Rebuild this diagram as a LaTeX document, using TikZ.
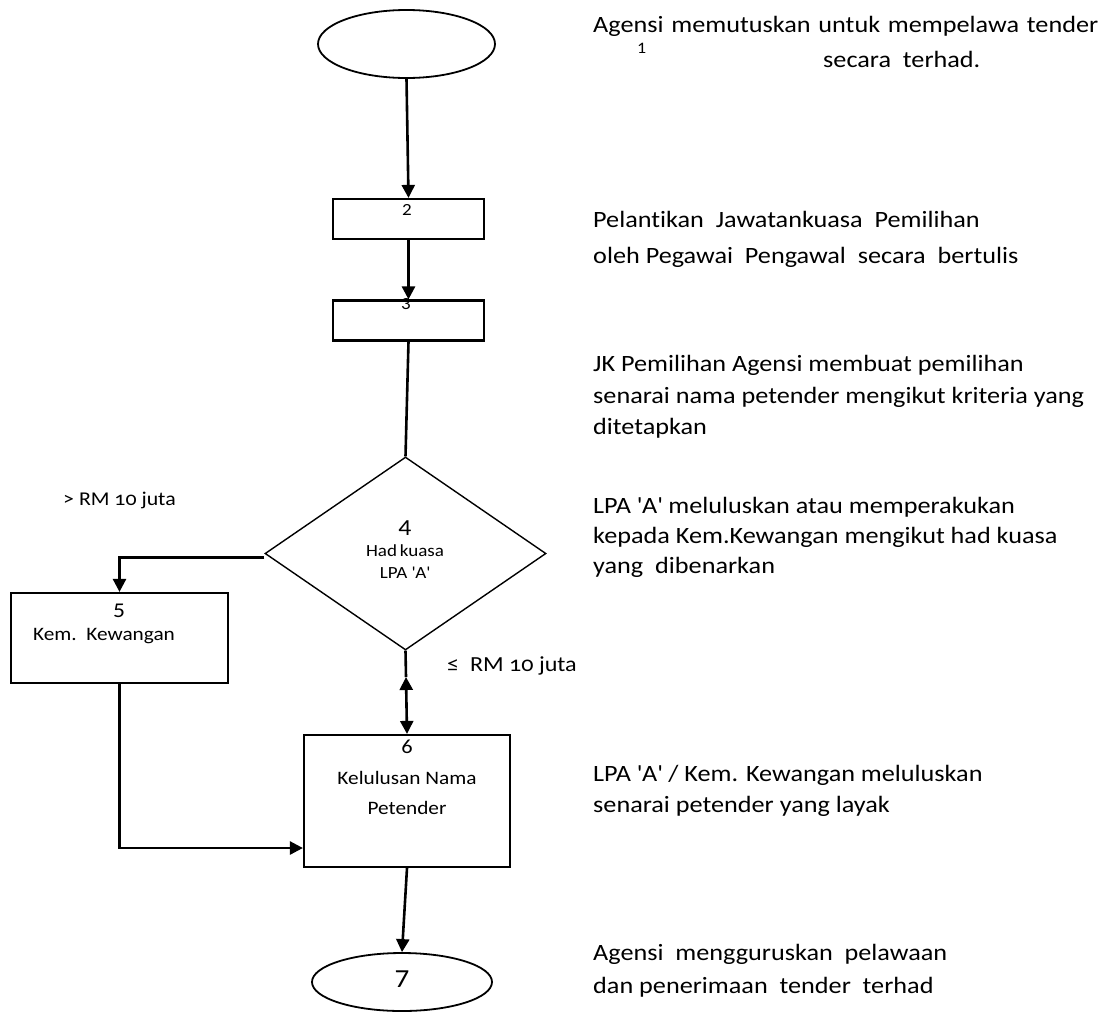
\documentclass[tikz,border=0pt]{standalone}
\usepackage{fontspec}
\setmainfont{Carlito}[FakeStretch=1.12,RawFeature={-liga;-clig;-calt;-dlig}]
\usetikzlibrary{shapes.geometric,arrows.meta,calc}
\newcommand{\osf}[1]{{\addfontfeature{Numbers=OldStyle}#1}}
\newcommand{\q}{\textquotesingle}
\begin{document}
\begin{tikzpicture}[x=1pt,y=-1pt,
  flowline/.style={line width=2.6pt},
  flowarrow/.style={flowline,-{Triangle[length=13pt,width=13pt]}},
  procbox/.style={draw,line width=2.2pt,inner sep=0pt},
  termnode/.style={draw,ellipse,line width=1.8pt,inner sep=0pt},
  decnode/.style={draw,diamond,line width=1.4pt,inner sep=0pt},
  note/.style={anchor=base west,inner sep=0pt,font=\fontsize{23.4}{28}\selectfont},
  boxtext/.style={anchor=base,inner sep=0pt,font=\fontsize{19}{22}\selectfont},
]
\useasboundingbox (0,0) rectangle (1116,1021);

% flow shapes
\node[termnode,minimum width=177pt,minimum height=68pt] (e1) at (406.5,44) {};
\node[procbox,minimum width=151pt,minimum height=40pt] (b2) at (408.5,219) {};
\node[procbox,minimum width=151pt,minimum height=40pt] (b3) at (408.5,320.5) {};
\node[decnode,minimum width=281pt,minimum height=193pt] (d4) at (405.5,553.5) {};
\node[procbox,minimum width=217pt,minimum height=90pt] (b5) at (119.5,638) {};
\node[procbox,minimum width=206pt,minimum height=132pt] (b6) at (407,801) {};
\node[termnode,minimum width=180pt,minimum height=58pt] (e7) at (402,982) {};

% labels inside the shapes
\node[boxtext,font=\fontsize{17}{18}\selectfont] (t2) at (407,215) {2};
\node[boxtext,font=\fontsize{17}{18}\selectfont] (t3) at (406,309) {3};
\node[boxtext,font=\fontsize{23}{24}\selectfont] (t4) at (405,535) {4};
\node[boxtext,font=\fontsize{17}{22}\selectfont] (t4a) at (405,556) {Had\,kuasa};
\node[boxtext,font=\fontsize{17}{22}\selectfont] (t4b) at (405,578) {LPA \q A\q};
\node[boxtext,font=\fontsize{21}{22}\selectfont] (t5) at (119,617) {5};
\node[boxtext] (t5a) at (104,640) {Kem.\ \ Kewangan};
\node[boxtext,font=\fontsize{20}{22}\selectfont] (t6) at (407,753) {6};
\node[boxtext] (t6a) at (407,784) {Kelulusan Nama};
\node[boxtext] (t6b) at (407,814) {Petender};
\node[boxtext,font=\fontsize{26}{28}\selectfont] (t7) at (402,987) {7};

% branch conditions
\node[note,font=\fontsize{19.5}{22}\selectfont] (gt) at (63,505) {> RM \osf{10} juta};
\node[note,font=\fontsize{21.5}{22}\selectfont] (le) at (447,671) {≤\ \ RM \osf{10} juta};

% connectors
\draw[flowarrow] (e1.south) -- (b2.north);
\draw[flowarrow] (b2.south) -- (b3.north);
\draw[flowline] (b3.south) -- (d4.north);
\draw[flowarrow] ([yshift=-4pt]d4.west) -| (b5.north);
\coordinate (up) at (406,677);
\draw[flowline] (d4.south) -- (up);
\draw[flowline,{Triangle[length=13pt,width=13pt]}-{Triangle[length=13pt,width=13pt]}] (up) -- (b6.north);
\draw[flowarrow] (b5.south) |- ([yshift=-47pt]b6.west);
\draw[flowarrow] (b6.south) -- (e7.north);

% step descriptions
\node[note] (n1) at (593,32) {\makebox[505pt][s]{Agensi memutuskan untuk mempelawa tender}};
\node[note,font=\fontsize{16}{18}\selectfont] (n1a) at (637,53) {1};
\node[note] (n1b) at (823,67) {secara\ \ terhad.};
\node[note] (n2a) at (593,227) {Pelantikan\ \ Jawatankuasa\ \ Pemilihan};
\node[note] (n2b) at (593,263) {oleh Pegawai\ \ Pengawal\ \ secara\ \ bertulis};
\node[note] (n3a) at (593,371) {JK Pemilihan Agensi membuat pemilihan};
\node[note] (n3b) at (593,403) {senarai nama petender mengikut kriteria yang};
\node[note] (n3c) at (593,434) {ditetapkan};
\node[note] (n4a) at (593,513) {LPA \q A\q{} meluluskan atau memperakukan};
\node[note] (n4b) at (593,543) {kepada Kem.Kewangan mengikut had kuasa};
\node[note] (n4c) at (593,573) {yang\ \ dibenarkan};
\node[note] (n6a) at (593,781) {LPA \q A\q{} / Kem. Kewangan meluluskan};
\node[note] (n6b) at (593,812) {senarai petender yang layak};
\node[note] (n7a) at (593,960) {Agensi\ \ mengguruskan\ \ pelawaan};
\node[note] (n7b) at (593,993) {dan penerimaan\ \ tender\ \ terhad};
\end{tikzpicture}
\end{document}
